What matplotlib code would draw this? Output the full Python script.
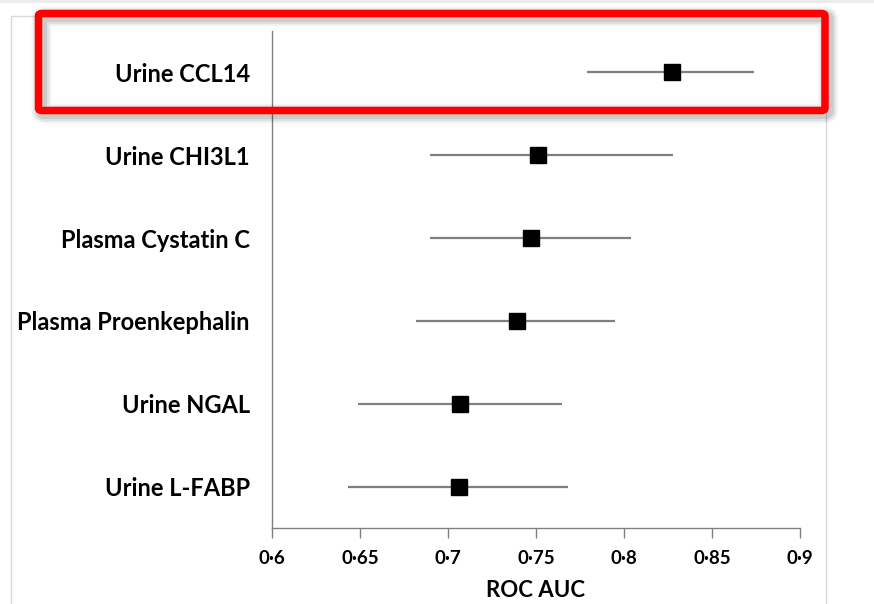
import matplotlib
matplotlib.use("Agg")
import matplotlib.pyplot as plt
from matplotlib.patches import Rectangle, FancyBboxPatch
from matplotlib.ticker import FuncFormatter

categories = ["Urine CCL14", "Urine CHI3L1", "Plasma Cystatin C",
              "Plasma Proenkephalin", "Urine NGAL", "Urine L-FABP"]
auc = [0.827, 0.751, 0.747, 0.739, 0.707, 0.706]
ci_low = [0.779, 0.690, 0.690, 0.682, 0.649, 0.643]
ci_high = [0.874, 0.828, 0.804, 0.795, 0.765, 0.768]
xticks = [0.6, 0.65, 0.7, 0.75, 0.8, 0.85, 0.9]

plt.rcParams['font.family'] = ['Lato', 'DejaVu Sans']

W, H = 874, 604
fig = plt.figure(figsize=(W / 100, H / 100), dpi=100)

def fx(x):
    return x / W

def fy(y):
    return 1 - y / H

# outer light frame
fig.add_artist(Rectangle((fx(11), fy(610)), fx(826 - 11), (610 - 16) / H,
                         transform=fig.transFigure, fill=False,
                         edgecolor="#d9d9d9", linewidth=1.0))
fig.add_artist(Rectangle((0, fy(3)), 1, 3 / H, transform=fig.transFigure,
                         facecolor="#ececec", edgecolor="none"))

ax = fig.add_axes([fx(272), fy(528), fx(800 - 272), (528 - 31) / H])
n = len(categories)
ypos = list(range(n))[::-1]
for y, a, lo, hi in zip(ypos, auc, ci_low, ci_high):
    ax.plot([lo, hi], [y, y], color="#7f7f7f", linewidth=1.6, solid_capstyle="butt", zorder=2)
    ax.plot([a], [y], marker="s", markersize=12, color="black", zorder=3)

ax.set_xlim(0.6, 0.9)
ax.set_ylim(-0.5, n - 0.5)
ax.set_yticks(ypos)
ax.set_yticklabels(categories, fontsize=17, fontweight="bold")
ax.tick_params(axis="y", length=0, pad=16)
ax.set_xticks(xticks)
ax.xaxis.set_major_formatter(FuncFormatter(lambda v, p: f"{v:g}".replace(".", "\u00b7")))
ax.tick_params(axis="x", length=7, width=1, color="#808080", pad=9, labelsize=13.5)
for lab in ax.get_xticklabels():
    lab.set_fontweight("bold")
ax.set_xlabel("ROC AUC", fontsize=16, fontweight="bold", labelpad=9)
for s in ["top", "right"]:
    ax.spines[s].set_visible(False)
for s in ["left", "bottom"]:
    ax.spines[s].set_color("#808080")
    ax.spines[s].set_linewidth(1.0)

# red highlight box with soft shadow
x0, y0, x1, y1 = 38.5, 13.5, 825, 110.5
for i, (lw, al) in enumerate([(14, 0.05), (11, 0.07), (8, 0.09)]):
    fig.add_artist(FancyBboxPatch((fx(x0 + 3), fy(y1 + 3)), fx(x1 - x0), (y1 - y0) / H,
                                  boxstyle="round,pad=0,rounding_size=0.004",
                                  transform=fig.transFigure, fill=False,
                                  edgecolor="black", alpha=al, linewidth=lw))
fig.add_artist(FancyBboxPatch((fx(x0), fy(y1)), fx(x1 - x0), (y1 - y0) / H,
                              boxstyle="round,pad=0,rounding_size=0.004",
                              transform=fig.transFigure, fill=False,
                              edgecolor="#ff0000", linewidth=5.4))

fig.savefig("out.png", dpi=100)
